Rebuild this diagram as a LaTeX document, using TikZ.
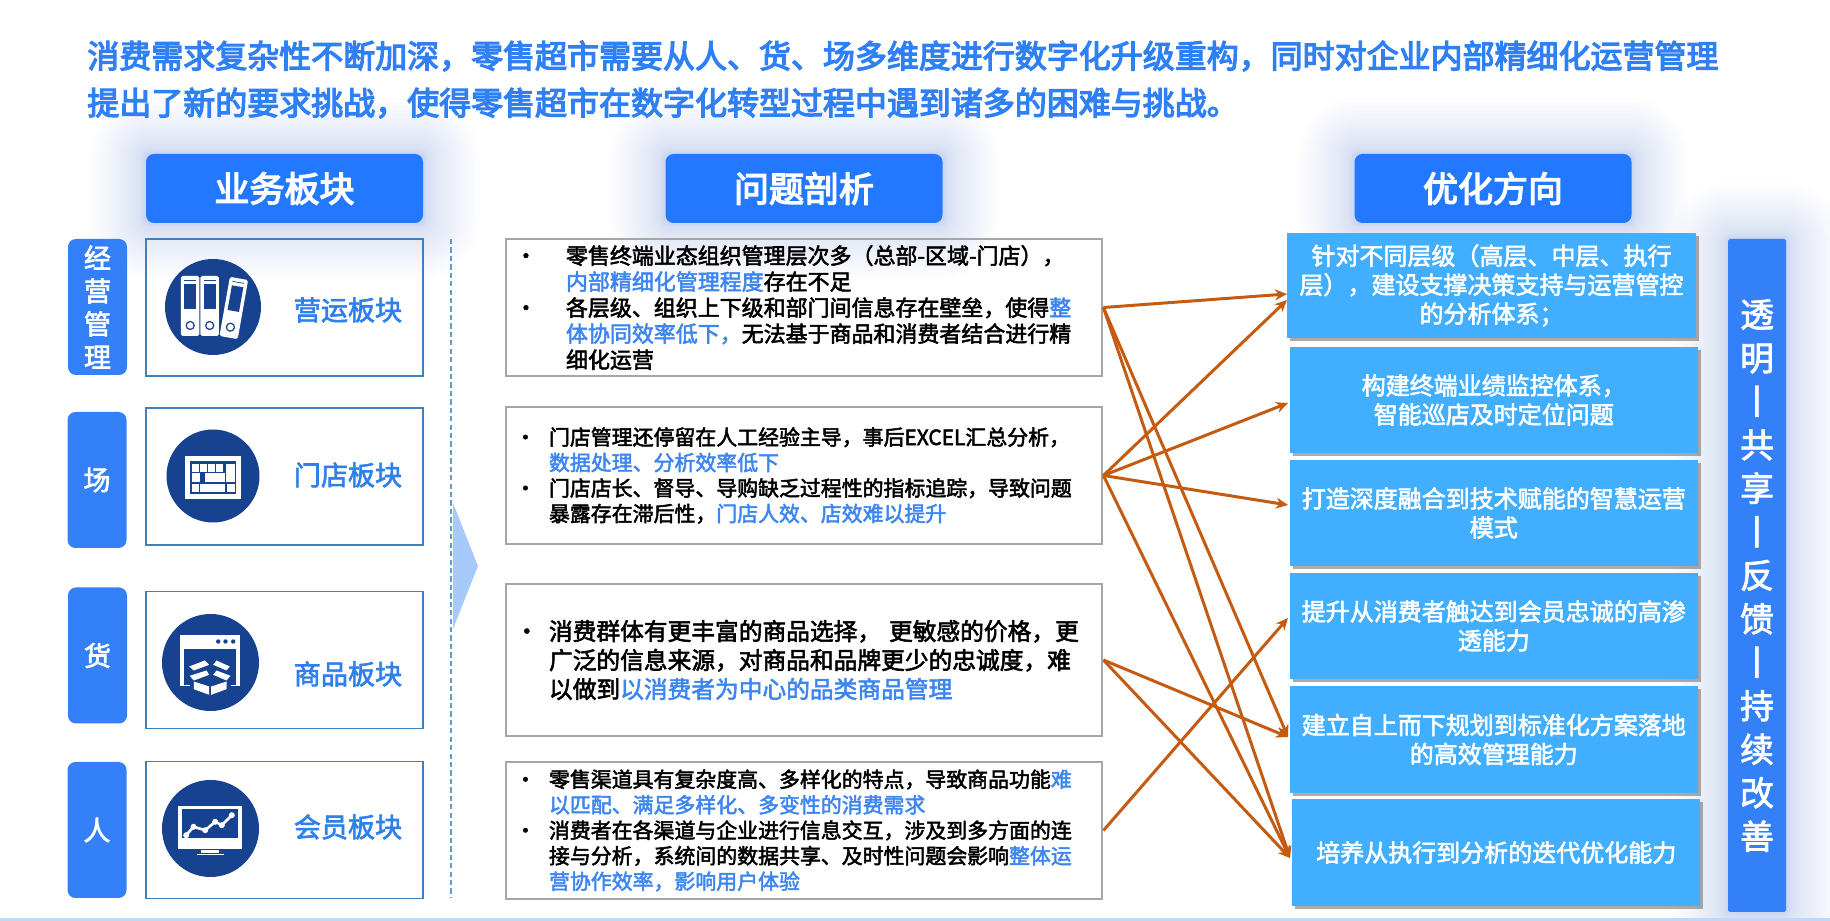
\documentclass[tikz,border=0pt]{standalone}
\usepackage{fontspec}
\usepackage{xcolor}
\setmainfont{Noto Sans CJK SC}
\newfontfamily\midfont{Noto Sans CJK SC}[FakeBold=2.4]
\newfontfamily\heavyfont{Noto Sans CJK SC}[FakeBold=3.8]
\usetikzlibrary{positioning,arrows.meta,calc,backgrounds,shadows}
\definecolor{titleblue}{RGB}{47,127,245}
\definecolor{headblue}{RGB}{34,121,255}
\definecolor{tagblue}{RGB}{51,128,248}
\definecolor{optblue}{RGB}{66,174,255}
\definecolor{edgeblue}{RGB}{62,127,192}
\definecolor{labelblue}{RGB}{47,128,237}
\definecolor{hlblue}{RGB}{61,133,240}
\definecolor{icondark}{RGB}{23,66,143}
\definecolor{boxgray}{RGB}{166,166,166}
\definecolor{flowbrown}{RGB}{197,90,17}
\definecolor{glowblue}{RGB}{96,128,208}
\definecolor{wedgeblue}{RGB}{166,203,251}
\definecolor{bandblue}{RGB}{191,215,248}
\newcommand{\hl}[1]{\textcolor{hlblue}{#1}}
\newlength\bulgap
\newcommand{\bul}{\makebox[\bulgap][l]{\hspace*{-0.18cm}\textbullet}}
\newcommand{\ind}{\hspace*{\bulgap}}
% soft halo behind a node
\newcommand{\softglow}[1]{%
  \foreach \i in {1,...,24}{
    \pgfmathsetmacro\g{0.03+1.1*(\i/24)^2}
    \fill[glowblue, opacity=0.014, rounded corners=\g cm+2pt]
      ($(#1.south west)+(-\g,-\g)$) rectangle ($(#1.north east)+(\g,\g)$);}}
\tikzset{
  head-node/.style={fill=headblue, rounded corners=4.5pt, minimum width=5.54cm,
    minimum height=1.38cm, inner sep=0pt, text=white, font=\fontsize{19.9}{24}\selectfont\heavyfont},
  tag-node/.style={fill=tagblue, rounded corners=4.5pt, minimum width=1.18cm,
    minimum height=2.72cm, inner sep=0pt, align=center, text=white,
    font=\fontsize{15.4}{18.8}\selectfont\midfont},
  section-node/.style={draw=edgeblue, line width=1.1pt, minimum width=5.54cm,
    minimum height=2.74cm, inner sep=0pt},
  section-label/.style={inner sep=0pt, text=labelblue, font=\fontsize{15.4}{18}\selectfont\midfont},
  icon-disc/.style={circle, fill=icondark, inner sep=0pt},
  prob-node/.style={draw=boxgray, line width=1.6pt, minimum width=11.92cm, minimum height=2.74cm,
    text width=11.2cm, inner xsep=0.36cm, inner ysep=0pt, align=left},
  opt-node/.style={fill=optblue, minimum width=8.16cm, minimum height=2.12cm, inner sep=0pt,
    align=center, text=white, font=\fontsize{13.66}{16.5}\selectfont\midfont,
    drop shadow={shadow xshift=0.06cm, shadow yshift=-0.07cm, fill=black!55, opacity=0.6}},
  flow-arrow/.style={-{Stealth[length=2.4mm,width=2.2mm]}, line width=1.7pt, draw=flowbrown},
  binder/.pic={
    \fill[white, rounded corners=1pt] (-9.25,-30) rectangle (9.25,30);
    \fill[icondark] (-5.8,-22) rectangle (5.8,3);
    \draw[icondark, line width=0.4pt] (-5.8,-26) -- (5.8,-26);
    \draw[icondark, line width=0.7pt] (0,19.5) circle (4);
  }
}
\begin{document}
\begin{tikzpicture}
\useasboundingbox (0,0) rectangle (36.6,18.42);
\fill[bandblue] (0,0) rectangle (36.6,0.06);
% intro text
\node[anchor=west, inner sep=0pt, align=left, text=titleblue,
  font=\fontsize{18.2}{26.7}\selectfont\heavyfont] (intro) at (1.74,16.83)
  {消费需求复杂性不断加深，零售超市需要从人、货、场多维度进行数字化升级重构，同时对企业内部精细化运营管理\\
   提出了新的要求挑战，使得零售超市在数字化转型过程中遇到诸多的困难与挑战。};
% column heads
\node[head-node] (headbiz) at (5.69,14.65) {业务板块};
\node[head-node] (headprob) at (16.08,14.65) {问题剖析};
\node[head-node] (headopt) at (29.86,14.65) {优化方向};
% left tags
\node[tag-node] (tagops) at (1.95,12.28) {经\\营\\管\\理};
\node[tag-node] (tagfield) at (1.94,8.82) {场};
\node[tag-node] (taggoods) at (1.95,5.31) {货};
\node[tag-node] (tagpeople) at (1.94,1.82) {人};
% business sections
\node[section-node] (secops) at (5.69,12.27) {};
\node[section-node] (secstore) at (5.69,8.89) {};
\node[section-node] (secgoods) at (5.69,5.22) {};
\node[section-node] (secmember) at (5.69,1.82) {};
\node[section-label] (labops) at (6.96,12.22) {营运板块};
\node[section-label] (labstore) at (6.96,8.92) {门店板块};
\node[section-label] (labgoods) at (6.96,4.94) {商品板块};
\node[section-label] (labmember) at (6.96,1.88) {会员板块};
\node[icon-disc, minimum size=1.92cm] (iconops) at (4.26,12.28) {};
\node[icon-disc, minimum size=1.86cm] (iconstore) at (4.26,8.90) {};
\node[icon-disc, minimum size=1.94cm] (icongoods) at (4.21,5.17) {};
\node[icon-disc, minimum size=1.94cm] (iconmember) at (4.21,1.85) {};
% binders
\begin{scope}[shift={(iconops.center)}, x=0.02cm, y=-0.02cm]
  \pic at (-22.8,-1) {binder};
  \pic at (-3.3,-1) {binder};
  \pic[rotate=-10] at (20.8,1) {binder};
\end{scope}
% keyboard
\begin{scope}[shift={(iconstore.center)}, x=0.02cm, y=-0.02cm]
  \fill[white] (-27.7,-20.3) rectangle (28.3,23.3);
  \fill[icondark] (-23.3,-15.3) rectangle (23.3,18);
  \foreach \xa/\ya/\xb/\yb in {-21/-12/-14.3/-4.3, -13/-12/-6.3/-4.3, -5/-12/1.7/-4.3, 3/-12/9.7/-4.3,
      -21/-2.7/-13.3/5.7, -7.7/-2.7/11.7/5.7, 13.3/-12/21.7/5.7,
      -21/8.3/-14.3/15.7, -12.7/8.3/12.3/15.7, 14.3/8.3/21.7/15.7}
    \fill[white] (\xa,\ya) rectangle (\xb,\yb);
\end{scope}
% window with open box
\begin{scope}[shift={(icongoods.center)}, x=0.02cm, y=-0.02cm]
  \fill[white] (-30,-27.7) rectangle (29.3,24);
  \fill[icondark] (-26.3,-13.7) rectangle (25.3,22.3);
  \foreach \dx in {7.7,15,22.7}
    \fill[icondark] (\dx,-21) circle (2.2);
  \fill[icondark] (-20,16) rectangle (20,36);
  \fill[white] (-16.7,19) -- (-1.3,24) -- (-1.3,32.3) -- (-16.7,26.7) -- cycle;
  \fill[white] (0.7,24) -- (16,19) -- (16,26.7) -- (0.7,32.3) -- cycle;
  \fill[white] (-21.3,4) -- (-5.7,-2) -- (-1.3,2.3) -- (-16.7,8) -- cycle;
  \fill[white] (2.7,2.3) -- (6,-2) -- (19.3,4) -- (16,8) -- cycle;
  \fill[white] (-20.7,13.3) -- (-4,8) -- (-1.3,12.3) -- (-16.7,18) -- cycle;
  \fill[white] (2.7,12.3) -- (6,8) -- (20,13.3) -- (16,18) -- cycle;
\end{scope}
% monitor with chart
\begin{scope}[shift={(iconmember.center)}, x=0.02cm, y=-0.02cm]
  \fill[white] (-32,-22.7) rectangle (31.3,20.7);
  \fill[icondark] (-28,-19) rectangle (27.3,10);
  \fill[white] (-9.7,21.7) rectangle (8,24.3);
  \fill[white] (-13.7,25.3) rectangle (13,26.7);
  \draw[white, line width=1.5pt] (-24.3,6.7) -- (-17,-1.7) -- (-5.3,1.7) -- (4.7,-6.7) -- (11.3,-3.3) -- (21.3,-13.3);
  \foreach \px/\py in {-24.3/6.7, -17/-1.7, -5.3/1.7, 4.7/-6.7, 11.3/-3.3, 21.3/-13.3}
    \fill[white] (\px,\py) circle (3);
\end{scope}
% divider and wedge
\coordinate (divtop) at (9.02,13.64);
\coordinate (divbot) at (9.02,0.48);
\draw[edgeblue!80, line width=0.9pt, dash pattern=on 3pt off 1.8pt] (divtop) -- (divbot);
\fill[wedgeblue] (9.06,8.36) -- (9.56,7.10) -- (9.06,5.84) -- cycle;
% problem boxes
\node[prob-node, font=\fontsize{12.5}{14.8}\selectfont\midfont] (prob1) at (16.08,12.27)
  {\setlength\bulgap{0.84cm}\bul 零售终端业态组织管理层次多（总部-区域-门店），\\
   \ind\hl{内部精细化管理程度}存在不足\\
   \bul 各层级、组织上下级和部门间信息存在壁垒，使得\hl{整}\\
   \ind\hl{体协同效率低下，}无法基于商品和消费者结合进行精\\
   \ind 细化运营};
\node[prob-node, font=\fontsize{11.9}{14.5}\selectfont\midfont] (prob2) at (16.08,8.91)
  {\setlength\bulgap{0.5cm}\bul 门店管理还停留在人工经验主导，事后EXCEL汇总分析，\\
   \ind\hl{数据处理、分析效率低下}\\
   \bul 门店店长、督导、导购缺乏过程性的指标追踪，导致问题\\
   \ind 暴露存在滞后性，\hl{门店人效、店效难以提升}};
\node[prob-node, minimum height=3.04cm, font=\fontsize{13.5}{16.5}\selectfont\midfont] (prob3) at (16.08,5.22)
  {\setlength\bulgap{0.5cm}\bul 消费群体有更丰富的商品选择，~更敏感的价格，更\\
   \ind 广泛的信息来源，对商品和品牌更少的忠诚度，难\\
   \ind 以做到\hl{以消费者为中心的品类商品管理}};
\node[prob-node, font=\fontsize{11.9}{14.5}\selectfont\midfont] (prob4) at (16.08,1.81)
  {\setlength\bulgap{0.5cm}\bul 零售渠道具有复杂度高、多样化的特点，导致商品功能\hl{难}\\
   \ind\hl{以匹配、满足多样化、多变性的消费需求}\\
   \bul 消费者在各渠道与企业进行信息交互，涉及到多方面的连\\
   \ind 接与分析，系统间的数据共享、及时性问题会影响\hl{整体运}\\
   \ind\hl{营协作效率，影响用户体验}};
% optimisation boxes
\node[opt-node, minimum width=8.18cm, minimum height=2.10cm] (opt1) at (29.83,12.71)
  {针对不同层级（高层、中层、执行\\层），建设支撑决策支持与运营管控\\的分析体系；};
\node[opt-node] (opt2) at (29.875,10.42) {构建终端业绩监控体系，\\智能巡店及时定位问题};
\node[opt-node] (opt3) at (29.875,8.16) {打造深度融合到技术赋能的智慧运营\\模式};
\node[opt-node] (opt4) at (29.875,5.90) {提升从消费者触达到会员忠诚的高渗\\透能力};
\node[opt-node, minimum height=2.14cm] (opt5) at (29.875,3.63) {建立自上而下规划到标准化方案落地\\的高效管理能力};
\node[opt-node, minimum height=2.14cm] (opt6) at (29.925,1.37) {培养从执行到分析的迭代优化能力};
% right bar
\node[fill=tagblue, rounded corners=1pt, minimum width=1.16cm, minimum height=13.46cm, inner sep=0pt,
  align=center, text=white, font=\fontsize{19.2}{24.75}\selectfont\midfont] (bar) at (35.14,6.91)
  {透\\明\\丨\\共\\享\\丨\\反\\馈\\丨\\持\\续\\改\\善};
% halos
\begin{scope}[on background layer]
  \softglow{headbiz}
  \softglow{headprob}
  \softglow{headopt}
  \softglow{bar}
\end{scope}
% arrow ends
\coordinate (in1a) at (25.74,12.54);
\coordinate (in1b) at (25.74,12.42);
\coordinate (in2) at (25.76,10.36);
\coordinate (in3) at (25.76,8.32);
\coordinate (in4) at (25.76,6.06);
\coordinate (in5) at (25.76,3.68);
\coordinate (in6) at (25.80,1.26);
\draw[flow-arrow] (prob1.east) -- (in1a);
\draw[flow-arrow] (prob1.east) -- (in5);
\draw[flow-arrow] (prob1.east) -- (in6);
\draw[flow-arrow] (prob2.east) -- (in1b);
\draw[flow-arrow] (prob2.east) -- (in2);
\draw[flow-arrow] (prob2.east) -- (in3);
\draw[flow-arrow] (prob2.east) -- (in6);
\draw[flow-arrow] (prob3.east) -- (in5);
\draw[flow-arrow] (prob3.east) -- (in6);
\draw[flow-arrow] (prob4.east) -- (in4);
\end{tikzpicture}
\end{document}
